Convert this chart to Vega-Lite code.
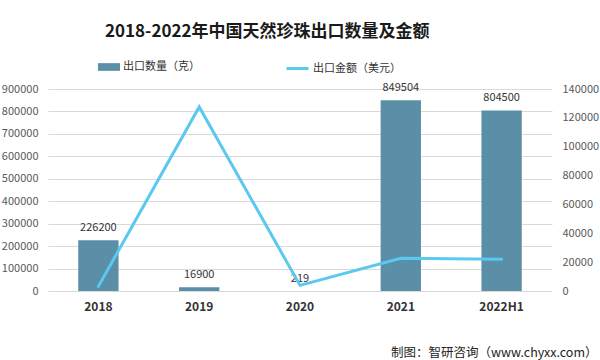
{
  "$schema": "https://vega.github.io/schema/vega-lite/v6.json",
  "autosize": "none",
  "width": 504,
  "height": 202,
  "padding": {"left": 48, "top": 89, "right": 48, "bottom": 69},
  "background": "white",
  "config": {
    "font": "Noto Sans CJK SC",
    "view": {"stroke": null},
    "legend": {"padding": 0}
  },
  "title": {
    "text": "2018-2022年中国天然珍珠出口数量及金额",
    "fontSize": 17,
    "fontWeight": "bold",
    "color": "#1a1a1a",
    "anchor": "start",
    "frame": "group",
    "dx": 57,
    "offset": 15
  },
  "data": {
    "values": [
      {"year": "2018", "qty": 226200, "amount": 3200},
      {"year": "2019", "qty": 16900, "amount": 127600},
      {"year": "2020", "qty": 219, "amount": 3900},
      {"year": "2021", "qty": 849504, "amount": 22700},
      {"year": "2022H1", "qty": 804500, "amount": 22000}
    ]
  },
  "encoding": {
    "x": {
      "field": "year",
      "type": "nominal",
      "sort": null,
      "scale": {"paddingInner": 0.6, "paddingOuter": 0.3},
      "axis": {
        "labelAngle": 0,
        "labelFontSize": 12,
        "labelFontWeight": "bold",
        "labelColor": "#333333",
        "labelPadding": 10,
        "ticks": false,
        "domain": false,
        "title": "制图：智研咨询（www.chyxx.com）",
        "titleFontSize": 12.5,
        "titleFontWeight": "normal",
        "titleColor": "#222222",
        "titleAnchor": "end",
        "titleAlign": "right",
        "titleBaseline": "middle",
        "titleX": 549,
        "titleY": 61
      }
    }
  },
  "layer": [
    {
      "encoding": {
        "y": {
          "field": "qty",
          "type": "quantitative",
          "scale": {"domain": [0, 900000]},
          "axis": {
            "orient": "left",
            "values": [0, 100000, 200000, 300000, 400000, 500000, 600000, 700000, 800000, 900000],
            "format": "d",
            "labelOverlap": false,
            "grid": true,
            "gridColor": "#D9D9D9",
            "domain": false,
            "ticks": false,
            "labelColor": "#595959",
            "labelFontSize": 11,
            "labelPadding": 10,
            "title": null
          }
        }
      },
      "layer": [
        {
          "mark": {"type": "bar", "color": "#5A8FA7"},
          "encoding": {
            "color": {
              "datum": "出口数量（克）",
              "scale": {"range": ["#5A8FA7"]},
              "legend": {
                "orient": "none",
                "legendX": 50,
                "legendY": -33,
                "title": null,
                "symbolType": "M-1,-0.35H1V0.35H-1Z",
                "symbolSize": 484,
                "symbolStrokeWidth": 0,
                "labelFontSize": 11,
                "labelColor": "#333333",
                "labelOffset": 3
              }
            }
          }
        },
        {
          "mark": {"type": "text", "fontSize": 11, "color": "#333333", "baseline": "middle", "dy": -12},
          "encoding": {
            "text": {"field": "qty", "type": "quantitative", "format": "d"}
          }
        }
      ]
    },
    {
      "mark": {"type": "line", "strokeWidth": 3, "color": "#5BC8F0", "strokeCap": "round"},
      "encoding": {
        "y": {
          "field": "amount",
          "type": "quantitative",
          "scale": {"domain": [0, 140000]},
          "axis": {
            "orient": "right",
            "values": [0, 20000, 40000, 60000, 80000, 100000, 120000, 140000],
            "format": "d",
            "labelOverlap": false,
            "grid": false,
            "domain": false,
            "ticks": false,
            "labelColor": "#595959",
            "labelFontSize": 11,
            "labelPadding": 10,
            "title": null
          }
        },
        "color": {
          "datum": "出口金额（美元）",
          "scale": {"range": ["#5BC8F0"]},
          "legend": {
            "orient": "none",
            "legendX": 237,
            "legendY": -33,
            "title": null,
            "symbolType": "stroke",
            "symbolSize": 484,
            "symbolStrokeWidth": 3,
            "labelFontSize": 11,
            "labelColor": "#333333",
            "labelOffset": 3
          }
        }
      }
    }
  ],
  "resolve": {"scale": {"y": "independent", "color": "independent"}}
}
